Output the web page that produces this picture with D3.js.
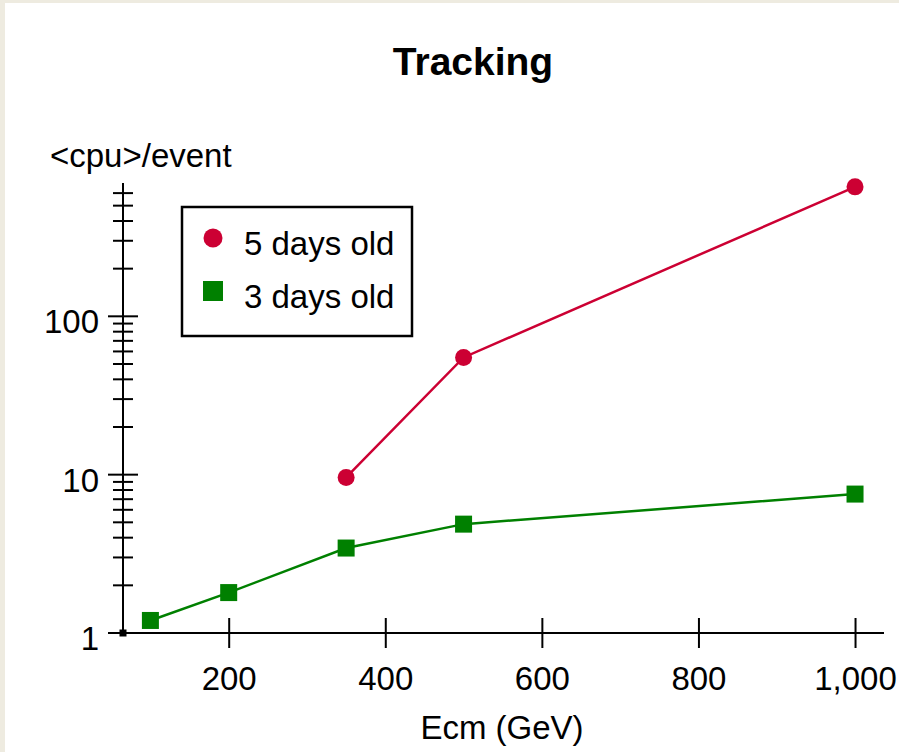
<!DOCTYPE html>
<html>
<head>
<meta charset="utf-8">
<script src="https://cdn.jsdelivr.net/npm/d3@7"></script>
<style>
  html, body { margin: 0; padding: 0; background: #eeebe0; }
  svg { display: block; font-family: "Liberation Sans", Arial, sans-serif; }
</style>
</head>
<body>
<svg width="899" height="752"></svg>
<script>
// energy points (GeV) and <cpu>/event per version
const energies5 = [350, 500, 1000];
const cpu5 = [9.6, 55, 657];
const energies3 = [100, 200, 350, 500, 1000];
const cpu3 = [1.2, 1.8, 3.44, 4.87, 7.54];
const xTicks = [200, 400, 600, 800, 1000];
const seriesNames = ["5 days old", "3 days old"];

const svg = d3.select("svg");

// white panel inside the beige frame
svg.append("rect")
    .attr("x", 5).attr("y", 3)
    .attr("width", 899).attr("height", 752)
    .attr("fill", "#fff");

const x = d3.scaleLinear().domain([65, 1037]).range([123, 884]);
const y = d3.scaleLog().domain([1, 695]).range([633, 183]);

// title + axis titles
svg.append("text")
    .attr("x", 473).attr("y", 75)
    .attr("text-anchor", "middle")
    .attr("font-size", "39px")
    .attr("font-weight", "bold")
    .text("Tracking");

svg.append("text")
    .attr("x", 50).attr("y", 167)
    .attr("font-size", "33px")
    .text("<cpu>/event");

svg.append("text")
    .attr("x", 502).attr("y", 739)
    .attr("text-anchor", "middle")
    .attr("font-size", "33px")
    .text("Ecm (GeV)");

// --- y axis (log) ---
const yAxis = svg.append("g").attr("stroke", "#000");
yAxis.append("line")
    .attr("x1", x(65)).attr("x2", x(65))
    .attr("y1", y(695)).attr("y2", y(1))
    .attr("stroke-width", 2);

const isMajor = v => Math.abs(Math.log10(v) - Math.round(Math.log10(v))) < 1e-9;
yAxis.selectAll(".ytick")
    .data(y.ticks())
    .enter()
    .append("line")
    .attr("x1", d => x(65) - (isMajor(d) ? 15 : 10))
    .attr("x2", d => x(65) + (isMajor(d) ? 15 : 10))
    .attr("y1", d => y(d)).attr("y2", d => y(d))
    .attr("stroke-width", 2);

svg.selectAll(".ylab")
    .data(y.ticks().filter(isMajor))
    .enter()
    .append("text")
    .attr("x", 99)
    .attr("y", d => y(d) + 17)
    .attr("text-anchor", "end")
    .attr("font-size", "33px")
    .text(d => d);

// --- x axis ---
const xAxis = svg.append("g")
    .attr("transform", `translate(0,${y(1)})`)
    .call(d3.axisBottom(x).tickValues(xTicks).tickFormat(d3.format(",")).tickSize(15).tickPadding(0));

xAxis.select(".domain").remove();
xAxis.append("line")
    .attr("x1", x(65)).attr("x2", x(1037))
    .attr("stroke", "#000").attr("stroke-width", 2);
xAxis.selectAll(".tick line")
    .attr("y1", -15).attr("y2", 15)
    .attr("stroke", "#000").attr("stroke-width", 2);
xAxis.selectAll(".tick text")
    .attr("y", 57).attr("dy", null)
    .attr("fill", "#000")
    .attr("font-size", "33px")
    .attr("font-family", "Liberation Sans, Arial, sans-serif");

// little square at the origin
svg.append("rect")
    .attr("x", x(65) - 3.5).attr("y", y(1) - 3.5)
    .attr("width", 7).attr("height", 7)
    .attr("fill", "#000");

// --- series ---
const line = d3.line().x(d => x(d[0])).y(d => y(d[1]));
const red = "#cc0033", green = "#008000";

const data5 = energies5.map((e, i) => [e, cpu5[i]]);
const data3 = energies3.map((e, i) => [e, cpu3[i]]);

svg.append("path")
    .attr("d", line(data5))
    .attr("fill", "none").attr("stroke", red).attr("stroke-width", 2.5);
svg.append("path")
    .attr("d", line(data3))
    .attr("fill", "none").attr("stroke", green).attr("stroke-width", 2.5);

svg.selectAll(".p5")
    .data(data5)
    .enter()
    .append("circle")
    .attr("cx", d => x(d[0])).attr("cy", d => y(d[1]))
    .attr("r", 8.5)
    .attr("fill", red);

svg.selectAll(".p3")
    .data(data3)
    .enter()
    .append("rect")
    .attr("x", d => x(d[0]) - 8.5).attr("y", d => y(d[1]) - 8.5)
    .attr("width", 17).attr("height", 17)
    .attr("fill", green);

// --- Legend ---
const legend = svg.append("g").attr("transform", "translate(182,207)");
legend.append("rect")
    .attr("width", 230).attr("height", 129)
    .attr("fill", "#fff").attr("stroke", "#000").attr("stroke-width", 2.5);

legend.append("circle")
    .attr("cx", 31).attr("cy", 31).attr("r", 9.5)
    .attr("fill", red);
legend.append("rect")
    .attr("x", 21).attr("y", 74).attr("width", 20).attr("height", 20)
    .attr("fill", green);

seriesNames.forEach((name, i) => {
    legend.append("text")
        .attr("x", 62)
        .attr("y", 48 + i * 53)
        .attr("font-size", "33px")
        .text(name);
});
</script>
</body>
</html>
